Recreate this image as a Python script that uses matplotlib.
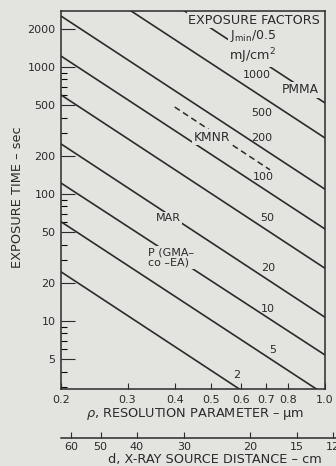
import matplotlib.pyplot as plt
from matplotlib.ticker import NullLocator

# exposure factor lines: exposure time at rho = 0.2 um and at rho = 1.0 um
factors = [2, 5, 10, 20, 50, 100, 200, 500, 1000]
t_at_rho_02 = [24.4, 60.5, 122, 248, 603, 1220, 2520, 6350, 12000]
t_at_rho_10 = [1.05, 2.63, 5.4, 10.7, 26, 53, 109, 276, 521]
rho_ends = [0.2, 1.0]

# factor labels (rho, t)
factor_label_rho = [0.585, 0.728, 0.707, 0.707, 0.703, 0.686, 0.68, 0.68, 0.66]
factor_label_t = [3.76, 5.9, 12.4, 26.1, 64.7, 136, 276, 434, 865]

# KMNR dashed segment
kmnr_rho = [0.40, 0.715]
kmnr_t = [484, 155]

# resist names (rho, t)
resist_names = ["PMMA", "KMNR", "MAR", "P (GMA–\nco –EA)"]
resist_rho = [0.858, 0.502, 0.384, 0.340]
resist_t = [659, 281, 64.7, 31.6]
resist_ha = ["center", "center", "center", "left"]
resist_size = [8.8, 8.8, 8, 8]

x_ticks = [0.2, 0.3, 0.4, 0.5, 0.6, 0.7, 0.8, 1.0]
x_tick_labels = ["0.2", "0.3", "0.4", "0.5", "0.6", "0.7", "0.8", "1.0"]
y_major = [5, 10, 20, 50, 100, 200, 500, 1000, 2000]
y_minor = [3, 4, 6, 7, 8, 9, 30, 40, 60, 70, 80, 90, 300, 400, 600, 700, 800, 900]

# x-ray source distance scale
d_ticks = [60, 50, 40, 30, 20, 15, 12]
d_lim = (63.8, 11.14)

bg = "#e3e3e0"
ink = "#2b2b2b"
plt.rcParams["font.family"] = "DejaVu Sans"
plt.rcParams["font.size"] = 8
plt.rcParams["text.color"] = ink

W, H = 336, 466
fig = plt.figure(figsize=(W / 100, H / 100), dpi=100, facecolor=bg)
ax = fig.add_axes([61 / W, 1 - 389 / H, 264 / W, 378 / H], facecolor=bg)
ax.set_xscale("log")
ax.set_yscale("log")
ax.set_xlim(0.2, 1.0)
ax.set_ylim(2.915, 2760)

for t0, t1 in zip(t_at_rho_02, t_at_rho_10):
    ax.plot(rho_ends, [t0, t1], color=ink, lw=1.2, solid_capstyle="butt")
ax.plot(kmnr_rho, kmnr_t, color=ink, lw=1.1, dashes=(4, 2.5))

box = dict(boxstyle="square,pad=0.12", fc=bg, ec="none")
for f, r, t in zip(factors, factor_label_rho, factor_label_t):
    ax.text(r, t, str(f), ha="center", va="center", zorder=5)
for name, r, t, ha, fs in zip(resist_names, resist_rho, resist_t, resist_ha, resist_size):
    ax.text(r, t, name, ha=ha, va="center", fontsize=fs, linespacing=1.0,
            bbox=box, zorder=5)

ax.text(0.649, 2344, "EXPOSURE FACTORS", ha="center", va="center", fontsize=9.2,
        bbox=box, zorder=5)
ax.text(0.644, 1754, r"J$_{\rm min}$/0.5", ha="center", va="center", fontsize=9,
        bbox=box, zorder=5)
ax.text(0.641, 1221, r"mJ/cm$^2$", ha="center", va="center", fontsize=9.2,
        bbox=box, zorder=5)

ax.set_xticks(x_ticks)
ax.set_xticklabels(x_tick_labels)
ax.xaxis.set_minor_locator(NullLocator())
ax.set_yticks(y_major)
ax.set_yticklabels([str(v) for v in y_major])
ax.set_yticks(y_minor, minor=True)
ax.tick_params(axis="x", which="major", direction="in", length=4.5, width=0.8,
               pad=4, colors=ink)
ax.tick_params(axis="y", which="major", direction="in", length=10, width=0.8,
               pad=4, colors=ink)
ax.tick_params(axis="y", which="minor", direction="in", length=4.5, width=0.8)
for s in ax.spines.values():
    s.set_linewidth(1.1)
    s.set_color(ink)

# second scale: source distance
dax = fig.add_axes([61 / W, 1 - 438 / H, 284 / W, 0.001])
dax.patch.set_visible(False)
dax.set_xscale("log")
dax.set_xlim(*d_lim)
for side in ["left", "right", "top"]:
    dax.spines[side].set_visible(False)
dax.spines["bottom"].set_linewidth(1.1)
dax.spines["bottom"].set_color(ink)
dax.set_yticks([])
dax.set_xticks(d_ticks)
dax.set_xticklabels([str(v) for v in d_ticks])
dax.xaxis.set_minor_locator(NullLocator())
dax.tick_params(axis="x", direction="in", length=4, width=0.8, pad=3, colors=ink)

fig.text(195 / W, 1 - 414 / H, r"$\rho$, RESOLUTION PARAMETER – μm",
         ha="center", va="center", fontsize=9.3)
fig.text(215 / W, 1 - 459 / H, "d, X-RAY SOURCE DISTANCE – cm",
         ha="center", va="center", fontsize=9.3)
fig.text(18 / W, 1 - 197 / H, "EXPOSURE TIME – sec", ha="center", va="center",
         rotation=90, fontsize=9.3)

fig.savefig("out.png", dpi=100, facecolor=bg)
